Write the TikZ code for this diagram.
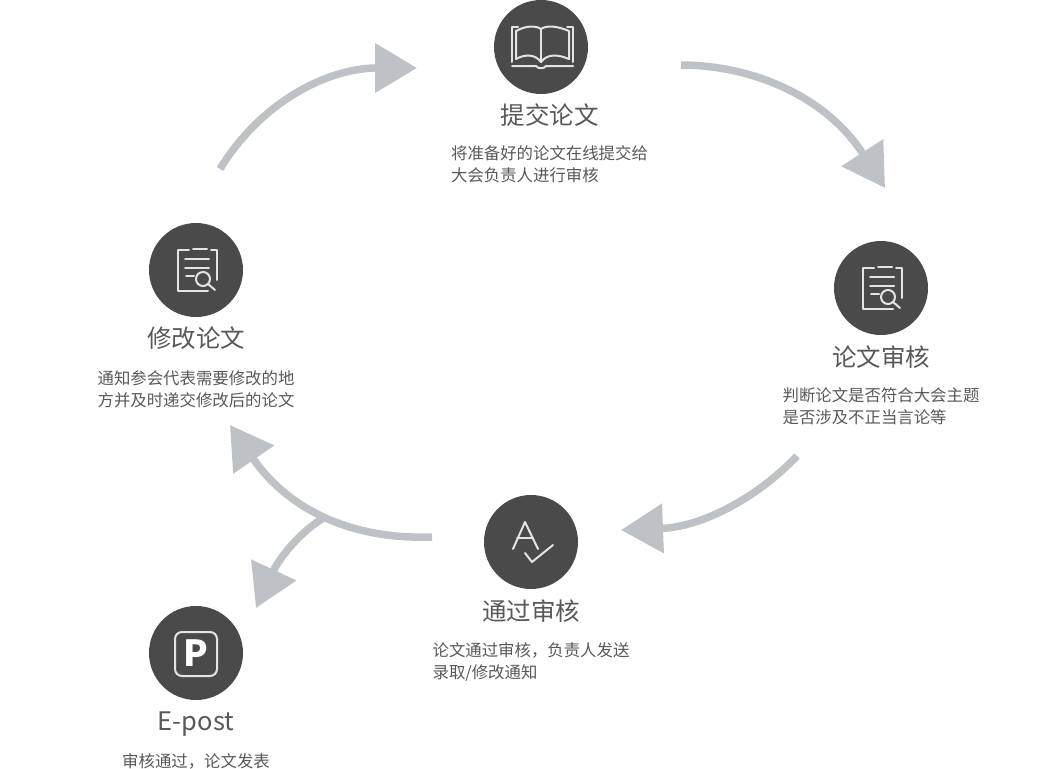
\documentclass[tikz,border=0pt]{standalone}
\usepackage{fontspec}
\setmainfont{Noto Sans CJK SC}
\usetikzlibrary{arrows.meta,positioning}

\tikzset{
  stage/.style={circle, fill=stagegray, minimum size=94pt, inner sep=0pt, text=white},
  stagetitle/.style={text=textgray, font=\fontsize{24.5}{28}\selectfont, inner sep=0pt},
  stagetext/.style={text=textgray, font=\fontsize{16.4}{22}\selectfont, inner sep=0pt, align=left},
  flow/.style={draw=flowgray, line width=7.5pt, -{Triangle[length=42pt,width=48pt,fill=flowgray]}},
  icon/.style={draw=iconwhite, line width=2pt, line cap=round, line join=round},
}
\definecolor{stagegray}{HTML}{4A4A4A}
\definecolor{flowgray}{HTML}{BEC1C6}
\definecolor{textgray}{HTML}{585858}
\definecolor{iconwhite}{HTML}{E4E4E4}

\newcommand{\reviewicon}[1]{
  \begin{scope}[shift={(#1)}, icon]
    \draw (-7,-20) -- (-18,-20) -- (-18,21) -- (12,21);
    \draw (-3,-21) -- (11,-21);
    \draw (15,-20) -- (21,-20) -- (21,10);
    \draw (-11,-11) -- (13,-11);
    \draw (-11,-2) -- (13,-2);
    \draw (-10,6) -- (-2,6);
    \draw (7,9) circle (7);
    \draw (12,14) -- (19,20);
  \end{scope}
}

\begin{document}
\begin{tikzpicture}[x=1pt, y=-1pt]

  \useasboundingbox (0,0) rectangle (1040,768);

  \node (submit) [stage] at (541,47) {};
  \node (submitT) [stagetitle] at (549.5,115) {提交论文};
  \node (submitD) [stagetext, below=19pt of submitT] {将准备好的论文在线提交给\\大会负责人进行审核};

  \node (review) [stage] at (881,288) {};
  \node (reviewT) [stagetitle] at (881,357) {论文审核};
  \node (reviewD) [stagetext, below=19pt of reviewT] {判断论文是否符合大会主题\\是否涉及不正当言论等};

  \node (pass) [stage] at (531,542) {};
  \node (passT) [stagetitle] at (531,611) {通过审核};
  \node (passD) [stagetext, below=20pt of passT] {论文通过审核，负责人发送\\录取/修改通知};

  \node (post) [stage, font=\fontsize{36}{36}\bfseries\selectfont] at (196,653) {P};
  \node (postT) [stagetitle, font=\fontsize{25.5}{28}\selectfont] at (196,724) {E-post};
  \node (postD) [stagetext, below=16.5pt of postT] {审核通过，论文发表};

  \node (revise) [stage] at (196,270) {};
  \node (reviseT) [stagetitle] at (196,338.5) {修改论文};
  \node (reviseD) [stagetext, below=20pt of reviseT] {通知参会代表需要修改的地\\方并及时递交修改后的论文};

  \coordinate (c1s) at (220,169);
  \coordinate (c1e) at (417,68);
  \coordinate (c2s) at (681,65);
  \coordinate (c2e) at (885,188);
  \coordinate (c3s) at (797,456);
  \coordinate (c3e) at (621,530);
  \coordinate (c4s) at (432,537);
  \coordinate (c4e) at (230,425);
  \coordinate (c5s) at (325,517);
  \coordinate (c5e) at (256,608);

  \draw [flow] (c1s) .. controls (262,100) and (330,68) .. (c1e);
  \draw [flow] (c2s) .. controls (750,65) and (825,95) .. (c2e);
  \draw [flow] (c3s) .. controls (755,500) and (700,527) .. (c3e);
  \draw [flow] (c4s) .. controls (345,540) and (285,505) .. (c4e);
  \draw [flow] (c5s) .. controls (295,535) and (277,563) .. (c5e);

  \reviewicon{881,288}
  \reviewicon{196,270}

  \begin{scope}[icon]
    \draw (512,62) -- (512,27) -- (518,27);
    \draw (573,62) -- (573,27) -- (567,27);
    \draw (516,59) -- (516,31) .. controls (525,26) and (535,25) .. (541,29) .. controls (547,25) and (557,26) .. (569,31) -- (569,59);
    \draw (541,29) -- (541,62);
    \draw (516,59) .. controls (525,54) and (535,54) .. (541,62) .. controls (547,54) and (557,54) .. (569,59);
    \draw (512,66) -- (536,66) .. controls (538,69) and (544,69) .. (546,66) -- (573,66);
    \draw (513,549) -- (525,522) -- (538,549);
    \draw (517,538) -- (533,538);
    \draw (525,553) -- (532,562) -- (553,545);
    \draw [rounded corners=7pt] (175,632) rectangle (217,676);
  \end{scope}

\end{tikzpicture}
\end{document}
